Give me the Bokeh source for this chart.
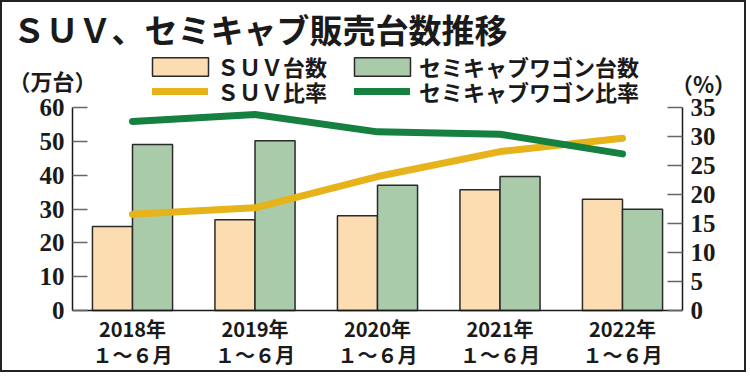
from bokeh.plotting import figure
from bokeh.models import (Range1d, LinearAxis, FixedTicker, Legend, LegendItem,
                          Label, ColumnDataSource)
from bokeh.transform import dodge
from bokeh.embed import file_html
from bokeh.resources import INLINE

# ---- data ----
years = ["2018年", "2019年", "2020年", "2021年", "2022年"]
period = "１～６月"
suv_units = [24.8, 26.8, 28.0, 35.7, 32.9]          # 万台
semicab_units = [49.1, 50.2, 37.0, 39.6, 29.9]      # 万台
suv_ratio = [16.6, 17.7, 23.1, 27.4, 29.7]          # %
semicab_ratio = [32.6, 33.8, 30.8, 30.4, 27.0]      # %
left_ticks = [0, 10, 20, 30, 40, 50, 60]
right_ticks = [0, 5, 10, 15, 20, 25, 30, 35]

xs = list(range(len(years)))
src = ColumnDataSource(dict(x=xs, suv=suv_units, semi=semicab_units,
                            suv_r=suv_ratio, semi_r=semicab_ratio))

CJK = "Noto Sans CJK JP"
NUM = "Liberation Sans Narrow"
INK = "#1a1a1a"

W, H = 746, 372
# pixel layout of the plotting area inside the canvas
X0, DX = 130.0, 122.5          # centre of first category, spacing
Y0 = 308.0                      # pixel row of value 0
PXL = 203.0 / 60.0              # px per 万台
PXR = 203.0 / 35.0              # px per %

p = figure(width=W, height=H,
           x_range=Range1d(-X0 / DX, (W - X0) / DX),
           y_range=Range1d(-(H - Y0) / PXL, Y0 / PXL),
           output_backend="svg", toolbar_location=None,
           min_border_left=0, min_border_right=0, min_border_top=0,
           min_border_bottom=0, background_fill_color="white",
           border_fill_color="white")
p.styles = {"border": "2px solid #222"}
p.extra_y_ranges = {"pct": Range1d(-(H - Y0) / PXR, Y0 / PXR)}
p.xgrid.visible = False
p.ygrid.visible = False
p.outline_line_color = None
p.xaxis.visible = False
p.yaxis.visible = False

XL, XR = -0.49, 4.49

BW = 0.327
r_suv = p.vbar(x=dodge("x", -BW / 2, range=p.x_range), top="suv", width=BW,
               source=src, fill_color="#FCDDB2", line_color="#2a2a2a", line_width=1.5)
r_semi = p.vbar(x=dodge("x", BW / 2, range=p.x_range), top="semi", width=BW,
                source=src, fill_color="#A9CBAA", line_color="#2a2a2a", line_width=1.5)
l_suv = p.line(x="x", y="suv_r", source=src, y_range_name="pct",
               line_color="#E6B31A", line_width=7, line_cap="round", line_join="round")
l_semi = p.line(x="x", y="semi_r", source=src, y_range_name="pct",
                line_color="#15803F", line_width=7, line_cap="round", line_join="round")

# axes drawn at fixed data locations inside the frame
xa = LinearAxis(ticker=FixedTicker(ticks=xs), fixed_location=0, bounds=(XL, XR))
xa.major_label_overrides = {i: f"{years[i]}\n{period}" for i in xs}
xa.major_tick_line_color = None
xa.minor_tick_line_color = None
xa.axis_line_color = INK
xa.axis_line_width = 1.5
xa.major_label_text_font = CJK
xa.major_label_text_font_style = "bold"
xa.major_label_text_font_size = "20px"
xa.major_label_text_line_height = 0.92
xa.major_label_text_color = INK
xa.major_label_standoff = -3
p.add_layout(xa, "below")

ya = LinearAxis(ticker=FixedTicker(ticks=left_ticks), fixed_location=XL, bounds=(0, 60))
ra = LinearAxis(y_range_name="pct", ticker=FixedTicker(ticks=right_ticks),
                fixed_location=XR, bounds=(0, 35))
p.add_layout(ya, "left")
p.add_layout(ra, "right")
for a in (ya, ra):
    a.major_tick_in = 15
    a.major_tick_out = 0
    a.major_tick_line_color = "#666666"
    a.major_tick_line_width = 1.5
    a.minor_tick_line_color = None
    a.axis_line_color = INK
    a.axis_line_width = 1.5
    a.major_label_text_font = NUM
    a.major_label_text_font_style = "bold"
    a.major_label_text_font_size = "25px"
    a.major_label_text_color = INK
    a.major_label_standoff = 8

# legends: one per cell so every swatch sits where the reference has it
def mk_legend(item, loc, gw, gh, standoff):
    lg = Legend(items=[item], location=loc, orientation="vertical",
                padding=0, margin=0, spacing=0, glyph_width=gw, glyph_height=gh,
                label_height=20, label_standoff=standoff,
                label_text_font=CJK, label_text_font_style="bold",
                label_text_font_size="22px", label_text_line_height=0.78,
                label_text_color=INK,
                border_line_alpha=0, background_fill_alpha=0)
    p.add_layout(lg)
    return lg

ROW1, ROW2 = H - 80, H - 104.5
mk_legend(LegendItem(label="ＳＵＶ台数", renderers=[r_suv]), (143, ROW1), 70, 23, 2)
mk_legend(LegendItem(label="セミキャブワゴン台数", renderers=[r_semi]), (345, ROW1), 70, 23, 2)
mk_legend(LegendItem(label="ＳＵＶ比率", renderers=[l_suv]), (150, ROW2), 56, 18, 9)
mk_legend(LegendItem(label="セミキャブワゴン比率", renderers=[l_semi]), (352, ROW2), 56, 18, 9)

# title & unit labels (screen units, from the frame's bottom-left)
p.add_layout(Label(x=10, y=H - 26, x_units="screen", y_units="screen",
                   text="ＳＵＶ、セミキャブ販売台数推移", text_font=CJK,
                   text_font_style="bold", text_font_size="33px",
                   text_color=INK, text_baseline="middle"))
p.add_layout(Label(x=50, y=H - 77, x_units="screen", y_units="screen",
                   text="（万台）", text_font=CJK, text_font_style="bold",
                   text_font_size="22px", text_color=INK,
                   text_align="center", text_baseline="middle"))
p.add_layout(Label(x=701, y=H - 80, x_units="screen", y_units="screen",
                   text="（%）", text_font=CJK, text_font_style="bold",
                   text_font_size="22px", text_color=INK,
                   text_align="center", text_baseline="middle"))

open("out.html", "w").write(file_html(p, INLINE))
